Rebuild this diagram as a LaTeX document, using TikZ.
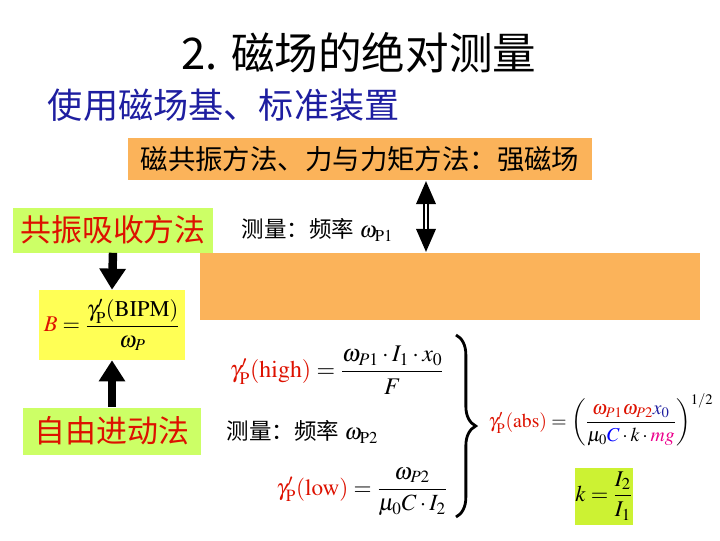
\documentclass[tikz,border=0pt]{standalone}
\usepackage{amsmath}
\usepackage{mathptmx}
\usepackage{fontspec}
\setmainfont{Liberation Serif}
\newfontfamily\cjk{Noto Sans CJK SC}
\usepackage{tikz}
\usetikzlibrary{arrows.meta,positioning,decorations.pathreplacing}
\definecolor{boxorange}{RGB}{251,179,90}
\definecolor{boxgreen}{RGB}{204,255,102}
\definecolor{boxyellow}{RGB}{255,255,85}
\definecolor{kgreen}{RGB}{204,242,51}
\definecolor{txtred}{RGB}{221,17,0}
\definecolor{subblue}{RGB}{30,30,160}
\newcommand{\gP}{\gamma'_{\mathrm{P}}}

\begin{document}
\begin{tikzpicture}[x=0.025cm, y=-0.025cm, >=Triangle,
  colbox/.style={fill=#1, inner sep=0pt},
  methodbox/.style={colbox=boxgreen, text=txtred, font=\cjk\fontsize{22}{26}\selectfont},
  meastext/.style={anchor=west, font=\cjk\fontsize{16}{20}\selectfont},
  bigarrow/.style={-{Triangle[width=18pt,length=15pt]}, line width=6pt},
  dblarrow/.style={{Triangle[width=13pt,length=17pt]}-{Triangle[width=13pt,length=17pt]}, line width=4pt}]
  \useasboundingbox (0,0) rectangle (720,540);
  % headings
  \node[font=\cjk\fontsize{31}{36}\selectfont] (title) at (359,53) {2. 磁场的绝对测量};
  \node[anchor=west, text=subblue, font=\cjk\fontsize{25}{30}\selectfont] (subtitle) at (43,105) {使用磁场基、标准装置};
  \node[colbox=boxorange, minimum width=11.6cm, minimum height=1.05cm, font=\cjk\fontsize{19.5}{23}\selectfont] (strong) at (360,159) {磁共振方法、力与力矩方法：强磁场};
  % left column
  \node[methodbox, minimum width=5cm, minimum height=1.125cm] (resonance) at (113,230) {共振吸收方法};
  \node[colbox=boxyellow, minimum width=3.65cm, minimum height=1.75cm, font=\fontsize{16}{19}\selectfont] (bipm) at (112,325)
    {$\color{txtred}B\color{black}=\dfrac{\gP(\mathrm{BIPM})}{\omega_P}$};
  \node[methodbox, minimum width=4.425cm, minimum height=1.175cm] (freeprec) at (112,431) {自由进动法};
  \draw[bigarrow] (resonance.south) -- (bipm.north);
  \draw[bigarrow] (freeprec.north) -- (bipm.south);
  % middle
  \node[meastext] (meas1) at (237,230) {测量：频率 $\omega_{\mathrm{P1}}$};
  \node[colbox=boxorange, minimum width=12.5cm, minimum height=1.675cm] (band) at (450,286.5) {};
  \path (strong.south) ++(66,0) coordinate (dtop);
  \draw[dblarrow] (dtop) -- (dtop |- band.north);
  \draw[white, line width=1.4pt, shorten <=17pt, shorten >=17pt] (dtop) -- (dtop |- band.north);
  \node[font=\fontsize{17}{20}\selectfont] (high) at (337,370)
    {$\color{txtred}\gP(\mathrm{high})\color{black}=\dfrac{\omega_{P1}\cdot I_1\cdot x_0}{F}$};
  \node[meastext] (meas2) at (222,432) {测量：频率 $\omega_{\mathrm{P2}}$};
  \node[font=\fontsize{16.5}{20}\selectfont] (low) at (362,492)
    {$\color{txtred}\gP(\mathrm{low})\color{black}=\dfrac{\omega_{P2}}{\mu_0C\cdot I_2}$};
  \coordinate (bracetop) at (456,335);
  \coordinate (bracebot) at (456,517);
  \draw[decorate, decoration={brace, amplitude=14pt}, line width=2pt] (bracetop) -- (bracebot);
  % right
  \node[font=\fontsize{14}{18}\selectfont] (abs) at (601,420)
    {$\color{txtred}\gP(\mathrm{abs})\color{black}=\left(\dfrac{\color{txtred}\omega_{P1}\omega_{P2}\color{subblue}x_0}{\mu_0{\color{blue}C}\cdot k\cdot{\color{magenta}mg}}\right)^{1/2}$};
  \node[colbox=kgreen, minimum width=1.425cm, minimum height=1.425cm, font=\fontsize{16}{19}\selectfont] (kratio) at (604,496)
    {$k=\dfrac{I_2}{I_1}$};
\end{tikzpicture}
\end{document}
